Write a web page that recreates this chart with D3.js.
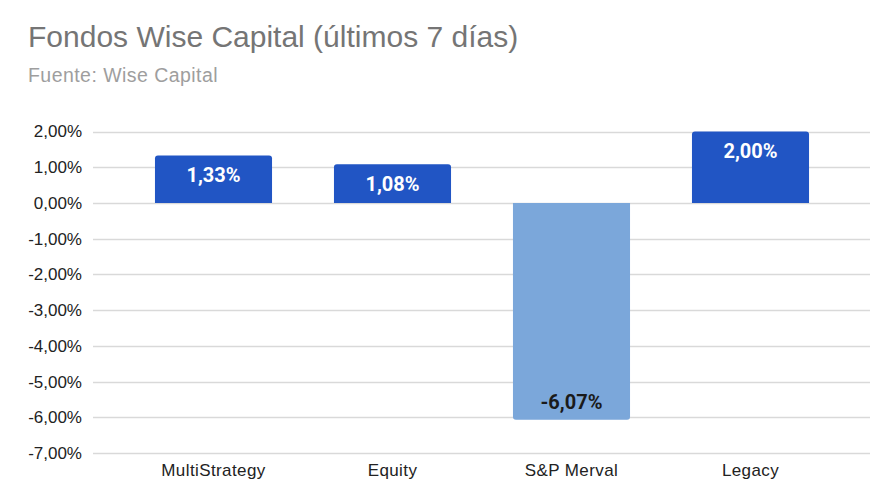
<!DOCTYPE html>
<html><head><meta charset="utf-8">
<script src="https://cdn.jsdelivr.net/npm/d3@7"></script>
<style>body{margin:0;background:#fff}svg{display:block}</style>
</head><body><svg id="c" width="886" height="500"></svg>
<script>
const categories = ["MultiStrategy", "Equity", "S&P Merval", "Legacy"];
const values = [1.33, 1.08, -6.07, 2.00];
const labels = ["1,33%", "1,08%", "-6,07%", "2,00%"];
const tickValues = [2, 1, 0, -1, -2, -3, -4, -5, -6, -7];
const tickLabels = ["2,00%", "1,00%", "0,00%", "-1,00%", "-2,00%", "-3,00%", "-4,00%", "-5,00%", "-6,00%", "-7,00%"];
const title = "Fondos Wise Capital (últimos 7 días)";
const subtitle = "Fuente: Wise Capital";

const svg = d3.select("#c");
const font = "'Liberation Sans', Arial, sans-serif";

svg.append("text").attr("x", 28).attr("y", 47).attr("font-family", font)
  .attr("font-size", 30).attr("fill", "#757575").text(title);
svg.append("text").attr("x", 28).attr("y", 82).attr("font-family", font)
  .attr("font-size", 19.5).attr("letter-spacing", 0.45).attr("fill", "#9e9e9e").text(subtitle);

const y = d3.scaleLinear().domain([2, -7]).range([131.5, 453]);
const x = d3.scaleBand().domain(categories).range([124, 840]).paddingInner(0.346).paddingOuter(0.173);

// gridlines
svg.append("g").selectAll("line").data(tickValues).join("line")
  .attr("x1", 93).attr("x2", 870)
  .attr("y1", d => Math.round(y(d)) + 0.5).attr("y2", d => Math.round(y(d)) + 0.5)
  .attr("stroke", "#d9d9d9").attr("stroke-width", 1.3);

// y labels
svg.append("g").selectAll("text").data(tickValues).join("text")
  .attr("x", 82).attr("y", d => y(d)).attr("dy", "0.35em")
  .attr("text-anchor", "end").attr("font-family", font).attr("font-size", 17)
  .attr("fill", "#222").text((d, i) => tickLabels[i]);

// bars with rounded outer corners
function barPath(d) {
  const x0 = x(d.c), w = x.bandwidth(), r = 3;
  const y0 = y(0), y1 = y(d.v);
  if (d.v >= 0) {
    return `M${x0},${y0}V${y1 + r}Q${x0},${y1} ${x0 + r},${y1}H${x0 + w - r}Q${x0 + w},${y1} ${x0 + w},${y1 + r}V${y0}Z`;
  } else {
    return `M${x0},${y0}V${y1 - r}Q${x0},${y1} ${x0 + r},${y1}H${x0 + w - r}Q${x0 + w},${y1} ${x0 + w},${y1 - r}V${y0}Z`;
  }
}
const data = categories.map((c, i) => ({ c, v: values[i], l: labels[i] }));
svg.append("g").selectAll("path").data(data).join("path")
  .attr("d", barPath)
  .attr("fill", d => d.v >= 0 ? "#2155c4" : "#7ba7da");

// value labels
svg.append("g").selectAll("text").data(data).join("text")
  .attr("x", d => x(d.c) + x.bandwidth() / 2)
  .attr("y", d => d.v >= 0 ? y(d.v) + 19.5 : y(d.v) - 18)
  .attr("dy", "0.35em").attr("text-anchor", "middle")
  .attr("font-family", "Roboto, sans-serif").attr("font-weight", "bold").attr("font-size", 20)
  .attr("fill", d => d.v >= 0 ? "#ffffff" : "#1a1a1a").text(d => d.l);

// category labels
svg.append("g").selectAll("text").data(categories).join("text")
  .attr("x", d => x(d) + x.bandwidth() / 2).attr("y", 470.5).attr("dy", "0.35em")
  .attr("text-anchor", "middle").attr("font-family", font).attr("font-size", 17)
  .attr("letter-spacing", 0.4)
  .attr("fill", "#222").text(d => d);
</script></body></html>
